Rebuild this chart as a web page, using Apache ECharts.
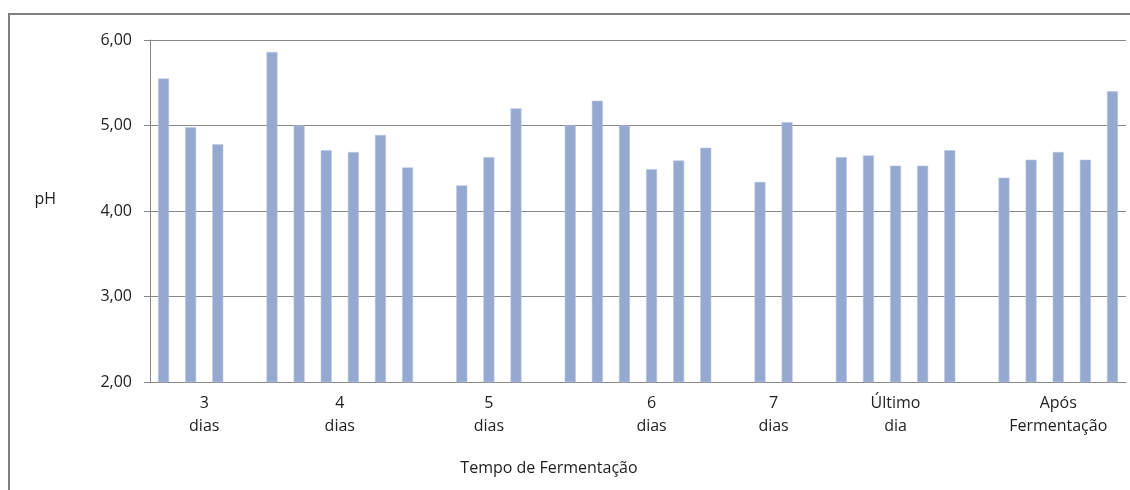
<!DOCTYPE html>
<html>
<head>
<meta charset="utf-8">
<title>pH x Tempo de Fermentação</title>
<script src="https://cdn.jsdelivr.net/npm/echarts@6/dist/echarts.min.js"></script>
<style>
  html, body { margin: 0; padding: 0; background: #ffffff; }
  #chart { width: 1130px; height: 490px; }
</style>
</head>
<body>
<div id="chart"></div>
<script>
// pH de cada amostra; null marca os espaços entre os grupos
const phValues = [
  5.55, 4.98, 4.78, null,
  5.86, 5.00, 4.71, 4.69, 4.89, 4.51,
  null, 4.30, 4.63, 5.20, null,
  5.00, 5.29, 5.00, 4.49, 4.59, 4.74, null,
  4.34, 5.04,
  null, 4.63, 4.65, 4.53, 4.53, 4.71, null,
  4.39, 4.60, 4.69, 4.60, 5.40
];

// Grupos do eixo de categorias e quantas posições cada um ocupa
const groupLabels = ['3\ndias', '4\ndias', '5\ndias', '6\ndias', '7\ndias', 'Último\ndia', 'Após\nFermentação'];
const groupSizes = [4, 6, 5, 7, 2, 7, 5];

// Valores do eixo Y
const yTicks = [2, 3, 4, 5, 6];

const slots = phValues.map((_, i) => String(i));

// Centro de cada grupo, em unidades de posição do eixo
const groupCenters = [];
let start = 0;
groupSizes.forEach(n => { groupCenters.push(start + n / 2); start += n; });

const textColor = '#1e1e1e';
const lineColor = '#888888';
const fontFamily = '"Open Sans", "Noto Sans", sans-serif';

const chart = echarts.init(document.getElementById('chart'));
chart.setOption({
  animation: false,
  backgroundColor: '#ffffff',
  textStyle: { fontFamily: fontFamily },
  grid: { left: 150, right: 4, top: 40, bottom: 108, containLabel: false },
  graphic: [{
    type: 'rect',
    shape: { x: 9, y: 14, width: 1300, height: 700 },
    style: { fill: 'none', stroke: '#808080', lineWidth: 2 },
    silent: true,
    z: -1
  }],
  xAxis: [{
    type: 'category',
    data: slots,
    axisLine: { show: true, lineStyle: { color: lineColor, width: 1 } },
    axisTick: { show: false },
    axisLabel: { show: false },
    splitLine: { show: false },
    name: 'Tempo de Fermentação',
    nameLocation: 'middle',
    nameGap: 78,
    nameTextStyle: { color: textColor, fontSize: 16, fontFamily: fontFamily, padding: [0, 178, 0, 0] }
  }, {
    type: 'value',
    position: 'bottom',
    min: 0,
    max: slots.length,
    interval: 0.5,
    axisLine: { show: false },
    axisTick: { show: false },
    splitLine: { show: false },
    axisLabel: {
      show: true,
      margin: 10,
      color: textColor,
      fontSize: 16,
      lineHeight: 23,
      fontFamily: fontFamily,
      showMinLabel: true,
      showMaxLabel: true,
      formatter: function (v) {
        const k = groupCenters.findIndex(c => Math.abs(c - v) < 1e-6);
        return k >= 0 ? groupLabels[k] : '';
      }
    }
  }],
  yAxis: {
    type: 'value',
    min: yTicks[0],
    max: yTicks[yTicks.length - 1],
    interval: 1,
    axisLine: { show: true, lineStyle: { color: lineColor, width: 1 } },
    axisTick: { show: true, inside: false, length: 6, lineStyle: { color: lineColor } },
    splitLine: { show: true, lineStyle: { color: lineColor, width: 1 } },
    axisLabel: {
      color: textColor,
      fontSize: 16,
      margin: 18,
      fontFamily: fontFamily,
      formatter: v => v.toFixed(2).replace('.', ',')
    },
    name: 'pH',
    nameLocation: 'middle',
    nameRotate: 0,
    nameGap: 94,
    nameTextStyle: {
      color: textColor, fontSize: 16, fontFamily: fontFamily,
      verticalAlign: 'bottom', padding: [0, 0, 4, 0]
    }
  },
  series: [{
    type: 'bar',
    xAxisIndex: 0,
    data: phValues,
    barWidth: 11,
    itemStyle: { color: '#94a8d0', borderColor: '#b9c6e0', borderWidth: 0.6 }
  }]
});
</script>
</body>
</html>
